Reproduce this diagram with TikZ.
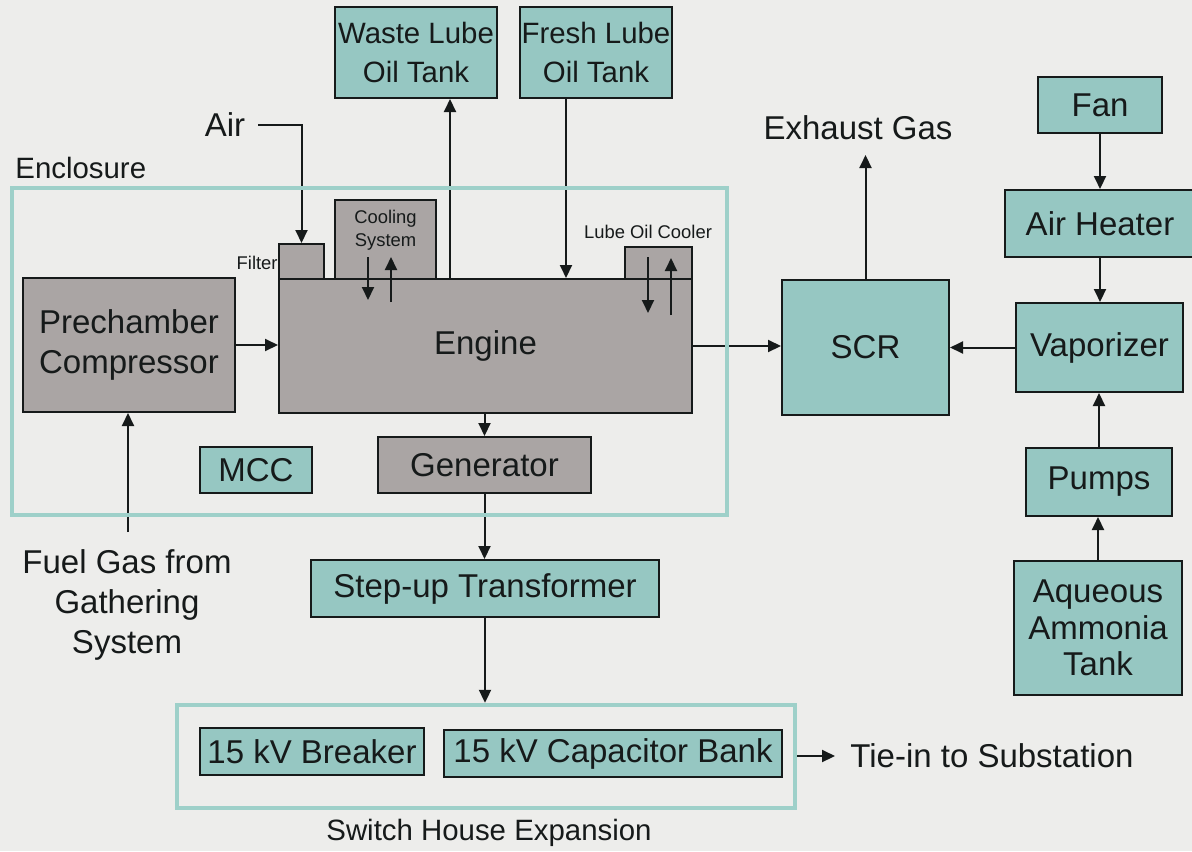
\documentclass[tikz,border=0pt]{standalone}
\usepackage{fontspec}
\setmainfont{Liberation Sans}
\usetikzlibrary{arrows.meta}

\definecolor{bgPaper}{RGB}{237,237,235}
\definecolor{boxTeal}{RGB}{150,199,194}
\definecolor{boxGray}{RGB}{170,165,164}
\definecolor{frameTeal}{RGB}{158,208,201}
\definecolor{inkDark}{RGB}{22,26,26}

\newcommand{\lblBig}{\fontsize{16.5}{20}\selectfont}
\newcommand{\lblMid}{\fontsize{14.7}{19.5}\selectfont}
\newcommand{\lblSmall}{\fontsize{9.2}{11.5}\selectfont}

\tikzset{
  tealbox/.style={draw=inkDark,fill=boxTeal,line width=1pt,inner sep=0pt,align=center,font=\lblBig},
  graybox/.style={tealbox,fill=boxGray},
  frame/.style={draw=frameTeal,line width=2.2pt,inner sep=0pt},
  flow/.style={draw=inkDark,line width=1pt,-{Triangle[length=6.5pt,width=6pt]}}
}

\begin{document}
\begin{tikzpicture}[x=0.5pt,y=-0.5pt,every node/.style={text=inkDark}]
  \fill[bgPaper] (0,0) rectangle (1192,851);
  \useasboundingbox (0,0) rectangle (1192,851);
  % Tanks on top
  \node[tealbox,minimum width=81pt,minimum height=45.5pt,font=\lblMid] (waste) at (416,52.5) {Waste Lube\\Oil Tank};
  \node[tealbox,minimum width=76pt,minimum height=45.5pt,font=\lblMid] (fresh) at (596,52.5) {Fresh Lube\\Oil Tank};
  % Engine block with its attachments
  \node[graybox,minimum width=106pt,minimum height=67pt] (prech) at (129,345) {Prechamber\\Compressor};
  \node[graybox,minimum width=206.5pt,minimum height=67pt] (engine) at (485.5,346) {Engine};
  \node[graybox,minimum width=22.5pt,minimum height=17.5pt] (filter) at (301.5,261.5) {};
  \node[graybox,minimum width=50.5pt,minimum height=39.5pt] (cooling) at (385.5,239.5) {};
  \node[graybox,minimum width=33.5pt,minimum height=16pt] (loc) at (658.5,263) {};
  \node[font=\lblSmall,align=center] (coolTxt) at (385.5,230) {Cooling\\System};
  \node[font=\lblSmall,anchor=east,inner sep=0.5pt] (filterTxt) at (279,263) {Filter};
  \node[font=\lblSmall] (locTxt) at (648,232) {Lube Oil Cooler};
  \node[tealbox,minimum width=56pt,minimum height=23pt] (mcc) at (256,470) {MCC};
  \node[graybox,minimum width=106.5pt,minimum height=28pt] (gen) at (484.5,465) {Generator};
  % Electrical chain
  \node[tealbox,minimum width=174pt,minimum height=28.5pt] (stepup) at (485,588.5) {Step-up Transformer};
  \node[frame,minimum width=309pt,minimum height=51.5pt] (swHouse) at (486,756.5) {};
  \node[tealbox,minimum width=112pt,minimum height=23.5pt] (breaker) at (312,751.5) {15 kV Breaker};
  \node[tealbox,minimum width=169pt,minimum height=23.5pt] (capbank) at (613,753.5) {15 kV Capacitor Bank};
  % Emission control
  \node[tealbox,minimum width=83.5pt,minimum height=67.5pt] (scr) at (865.5,347.5) {SCR};
  \node[tealbox,minimum width=62pt,minimum height=28pt] (fan) at (1100,105) {Fan};
  \node[tealbox,minimum width=95pt,minimum height=33.5pt] (heater) at (1100,223.5) {Air Heater};
  \node[tealbox,minimum width=83.5pt,minimum height=44.5pt] (vap) at (1099.5,347.5) {Vaporizer};
  \node[tealbox,minimum width=73pt,minimum height=34pt] (pumps) at (1099,482) {Pumps};
  \node[tealbox,minimum width=84pt,minimum height=67pt,font=\fontsize{16.5}{18.3}\selectfont] (tank) at (1098,628) {Aqueous\\Ammonia\\Tank};
  % Free labels
  \node[font=\lblBig] (airTxt) at (225,125) {Air};
  \node[font=\lblMid,anchor=west,inner sep=0pt] (enclTxt) at (15,168) {Enclosure};
  \node[font=\lblBig] (exhTxt) at (858,128) {Exhaust Gas};
  \node[font=\lblBig,align=center] (fuelTxt) at (127,605) {Fuel Gas from\\Gathering\\System};
  \node[font=\lblMid] (swTxt) at (489,833) {Switch House Expansion};
  \node[font=\lblBig,anchor=west,inner sep=0pt,inner xsep=7.5pt] (tieTxt) at (835,756) {Tie-in to Substation};
  \coordinate (oilOut) at (450,0);
  \coordinate (oilIn) at (566,0);
  \coordinate (exhTip) at (865.5,155);
  \coordinate (fuelIn) at (128,532);
  % Connectors
  \draw[flow] ([xshift=3pt]airTxt.east) -| (filter.north);
  \draw[flow] (engine.north -| oilOut) -- (waste.south -| oilOut);
  \draw[flow] (fresh.south -| oilIn) -- (engine.north -| oilIn);
  \foreach \x/\ya/\yb in {368/257/300, 391/302/257, 648/257/313, 671/315/258}
    \draw[flow] (\x,\ya) -- (\x,\yb);
  \draw[flow] (fuelIn) -- (prech.south -| fuelIn);
  \draw[flow] (prech.east) -- (prech.east -| engine.west);
  \draw[flow] (engine.east) -- (engine.east -| scr.west);
  \draw[flow] (vap.west) -- (vap.west -| scr.east);
  \draw[flow] (scr.north) -- (exhTip);
  \draw[flow] (fan) -- (heater);
  \draw[flow] (heater.south) -- (heater.south |- vap.north);
  \draw[flow] (tank.north) -- (tank.north |- pumps.south);
  \draw[flow] (pumps.north) -- (pumps.north |- vap.south);
  \draw[flow] (engine.south -| gen.north) -- (gen.north);
  \draw[flow] (gen.south) -- (gen.south |- stepup.north);
  \draw[flow] (stepup.south) -- (stepup.south |- swHouse.north);
  \draw[flow] (tieTxt.west -| swHouse.east) -- (tieTxt.west);
  % Enclosure outline on top
  \node[frame,minimum width=357.5pt,minimum height=163.5pt] (encl) at (369.5,351.5) {};
\end{tikzpicture}
\end{document}
